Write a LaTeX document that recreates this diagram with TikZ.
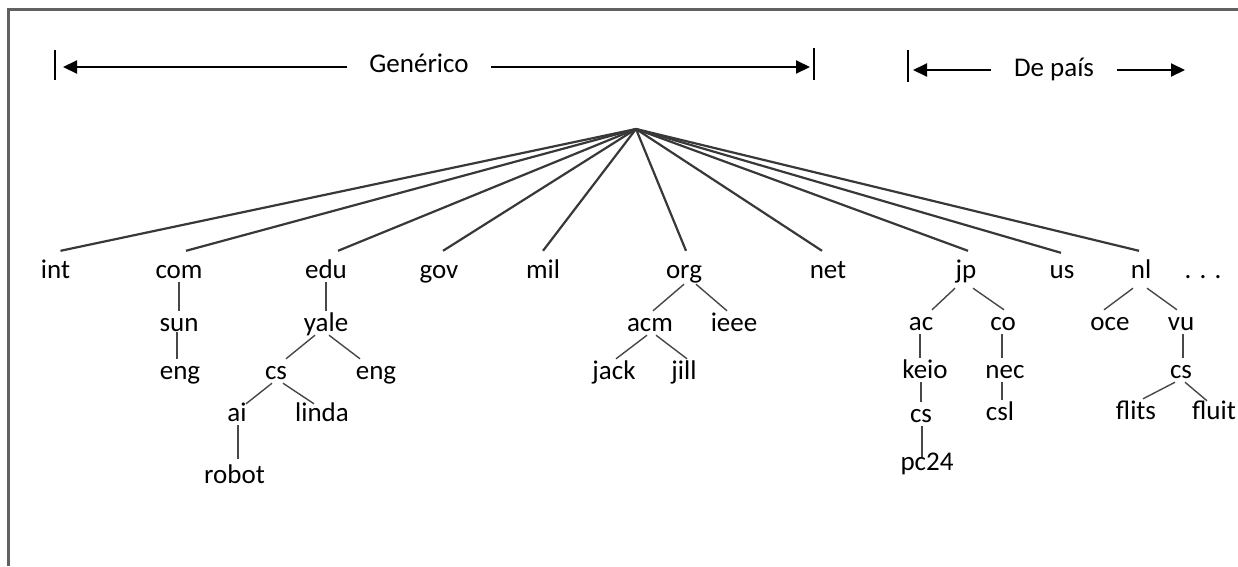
\documentclass[tikz,border=0pt]{standalone}
\usepackage{fontspec}
\setmainfont{Carlito}
\usetikzlibrary{arrows.meta}
\begin{document}
\begin{tikzpicture}[x=1pt,y=-1pt,
  lbl/.style={font=\fontsize{27}{32}\selectfont, anchor=base, inner sep=0pt, text height=20pt, text depth=4pt},
  rootedge/.style={draw=black!78, line width=2.2pt},
  edge/.style={draw=black!72, line width=1.4pt},
  arr/.style={line width=2pt, -{Triangle[length=14pt,width=13pt]}},
  bar/.style={line width=1.5pt},
  frame/.style={draw=black!62, line width=2.5pt}]
\useasboundingbox (0,0) rectangle (1238,566);
\draw[frame] (8.5,566) -- (8.5,9.5) -- (1238,9.5);

% header
\node[lbl, inner xsep=22pt] (gen) at (419,72) {Genérico};
\coordinate (gTipL) at (63,67);
\coordinate (gTipR) at (810,67);
\draw[arr] (gen.west |- gTipL) -- (gTipL);
\draw[arr] (gen.east |- gTipR) -- (gTipR);
\draw[bar] (55,50) -- (55,80);
\draw[bar] (814,48) -- (814,80);

\node[lbl, inner xsep=23pt] (dp) at (1054,76) {De país};
\coordinate (dTipL) at (913,70);
\coordinate (dTipR) at (1185,70);
\draw[arr] (dp.west |- dTipL) -- (dTipL);
\draw[arr] (dp.east |- dTipR) -- (dTipR);
\draw[bar] (908,50) -- (908,82);

% root
\coordinate (root) at (636,129);

% row 1
\node[lbl] (int) at (55.5,278) {int};
\node[lbl] (com) at (179,278) {com};
\node[lbl] (edu) at (326,278) {edu};
\node[lbl] (gov) at (439,278) {gov};
\node[lbl] (mil) at (543,278) {mil};
\node[lbl, text depth=6pt] (org) at (684,278) {org};
\node[lbl] (net) at (828,278) {net};
\node[lbl, text depth=10pt] (jp) at (966,278) {jp};
\node[lbl] (us) at (1062,278) {us};
\node[lbl, text depth=10pt] (nl) at (1141,278) {nl};
\node[lbl] (more) at (1203,278) {. . .};

% row 2
\node[lbl] (sun) at (179,331) {sun};
\node[lbl] (yale) at (326,331) {yale};
\node[lbl] (acm) at (650,331) {acm};
\node[lbl] (ieee) at (734,331) {ieee};
\node[lbl] (ac) at (921,330) {ac};
\node[lbl] (co) at (1003,330) {co};
\node[lbl] (oce) at (1110,330) {oce};
\node[lbl] (vu) at (1181,330) {vu};

% row 3
\node[lbl] (eng1) at (180,379) {eng};
\node[lbl] (cs1) at (276,379) {cs};
\node[lbl] (eng2) at (376,379) {eng};
\node[lbl] (jack) at (614,379) {jack};
\node[lbl] (jill) at (684,379) {jill};
\node[lbl] (keio) at (925,378) {keio};
\node[lbl] (nec) at (1005,378) {nec};
\node[lbl] (cs3) at (1181,378) {cs};

% row 4
\node[lbl, text height=17pt] (ai) at (237,421) {ai};
\node[lbl, text height=17pt] (linda) at (322,421) {linda};
\node[lbl] (cs2) at (921,422) {cs};
\node[lbl] (csl) at (1000,420) {csl};
\node[lbl] (flits) at (1136,419) {flits};
\node[lbl, text height=18pt] (fluit) at (1214,419) {fluit};

% row 5
\node[lbl, text height=24pt] (robot) at (234.5,483) {robot};
\node[lbl, text height=13pt] (pc24) at (927,470) {pc24};

% root edges
\draw[rootedge] (root) -- ([xshift=5pt,yshift=7pt]int.north);
\draw[rootedge] (root) -- ([xshift=7pt,yshift=7pt]com.north);
\draw[rootedge] (root) -- ([xshift=12pt,yshift=7pt]edu.north);
\draw[rootedge] (root) -- ([xshift=4pt,yshift=7pt]gov.north);
\draw[rootedge] (root) -- ([xshift=0pt,yshift=7pt]mil.north);
\draw[rootedge] (root) -- ([xshift=2pt,yshift=7pt]org.north);
\draw[rootedge] (root) -- ([xshift=-6pt,yshift=7pt]net.north);
\draw[rootedge] (root) -- ([xshift=2pt,yshift=7pt]jp.north);
\draw[rootedge] (root) -- ([xshift=-1pt,yshift=5pt]us.north);
\draw[rootedge] (root) -- ([xshift=-2pt,yshift=7pt]nl.north);

% subtree edges
\draw[edge] (com.south) -- (sun.north);
\draw[edge] ([xshift=-2pt,yshift=3pt]sun.south) -- ([xshift=-3pt]eng1.north);
\draw[edge] (edu.south) -- (yale.north);
\draw[edge] ([xshift=-11pt]yale.south) -- ([xshift=10pt]cs1.north);
\draw[edge] ([xshift=3pt]yale.south) -- ([xshift=-16pt]eng2.north);
\draw[edge] ([xshift=-4pt]cs1.south) -- ([xshift=9pt]ai.north);
\draw[edge] ([xshift=7pt]cs1.south) -- ([xshift=-8pt]linda.north);
\draw[edge] ([xshift=1pt]ai.south) -- ([xshift=3.5pt]robot.north);

\draw[edge] (org.south) -- ([xshift=3pt]acm.north);
\draw[edge] ([xshift=12pt]org.south) -- ([xshift=-7pt]ieee.north);
\draw[edge] ([xshift=-3pt]acm.south) -- ([xshift=2pt]jack.north);
\draw[edge] ([xshift=6pt]acm.south) -- ([xshift=3pt]jill.north);

\draw[edge] ([xshift=-11pt]jp.south) -- ([xshift=11pt]ac.north);
\draw[edge] ([xshift=7pt]jp.south) -- ([xshift=1pt]co.north);
\draw[edge] ([xshift=-1pt]ac.south) -- ([xshift=-5pt]keio.north);
\draw[edge] ([xshift=-4pt]keio.south) -- (cs2.north);
\draw[edge] ([xshift=1pt]cs2.south) -- ([xshift=-5pt]pc24.north);
\draw[edge] ([xshift=-1pt]co.south) -- ([xshift=-3pt]nec.north);
\draw[edge] ([xshift=-3pt]nec.south) -- ([xshift=2pt]csl.north);

\draw[edge] ([xshift=-8pt]nl.south) -- ([xshift=-6pt]oce.north);
\draw[edge] ([xshift=6pt]nl.south) -- ([xshift=-4pt]vu.north);
\draw[edge] ([xshift=2pt]vu.south) -- ([xshift=2pt]cs3.north);
\draw[edge] ([xshift=-6pt]cs3.south) -- ([xshift=7pt]flits.north);
\draw[edge] ([xshift=4pt]cs3.south) -- ([xshift=-7pt]fluit.north);
\end{tikzpicture}
\end{document}
